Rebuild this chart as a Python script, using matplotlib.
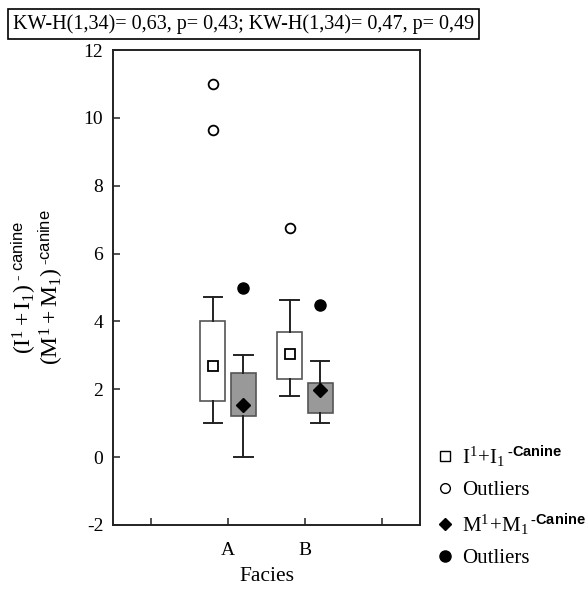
import matplotlib
matplotlib.use("Agg")
import matplotlib.pyplot as plt
from matplotlib.lines import Line2D

plt.rcParams['font.family'] = ['Liberation Serif', 'DejaVu Serif']
plt.rcParams['mathtext.fontset'] = 'custom'
plt.rcParams['mathtext.rm'] = 'Liberation Serif'
plt.rcParams['mathtext.it'] = 'Liberation Serif:italic'
plt.rcParams['mathtext.sf'] = 'Liberation Sans'
plt.rcParams['mathtext.bf'] = 'Liberation Sans:bold'

categories = ['A', 'B']
# I1+I1 -canine (white boxes)
inc_q1 = [1.65, 2.3]
inc_q3 = [4.0, 3.7]
inc_lo = [1.0, 1.8]
inc_hi = [4.73, 4.62]
inc_med = [2.7, 3.03]
inc_out = [[11.0, 9.65], [6.75]]
# M1+M1 -canine (gray boxes)
mol_q1 = [1.2, 1.3]
mol_q3 = [2.48, 2.18]
mol_lo = [0.0, 1.0]
mol_hi = [3.0, 2.83]
mol_med = [1.53, 1.97]
mol_out = [[5.0], [4.48]]

title = "KW-H(1,34)= 0,63, p= 0,43; KW-H(1,34)= 0,47, p= 0,49"

fig = plt.figure(figsize=(5.87, 5.90), dpi=100)
ax = fig.add_axes([0.1925, 0.1102, 0.523, 0.805])

cat_pos = [1.5, 2.5]
off = 0.2
bw = 0.33

def stats(q1, q3, lo, hi, med, out):
    return [dict(med=m, q1=a, q3=b, whislo=l, whishi=h, fliers=o, mean=m)
            for a, b, l, h, m, o in zip(q1, q3, lo, hi, med, out)]

common = dict(widths=bw, capwidths=0.24, showfliers=True, showmeans=True,
              patch_artist=True, manage_ticks=False)
ax.bxp(stats(inc_q1, inc_q3, inc_lo, inc_hi, inc_med, inc_out),
       positions=[p - off for p in cat_pos],
       boxprops=dict(facecolor='white', edgecolor='#555555', linewidth=1.2),
       whiskerprops=dict(color='#222222', linewidth=1.4),
       capprops=dict(color='#222222', linewidth=1.4),
       medianprops=dict(linewidth=0),
       meanprops=dict(marker='s', markerfacecolor='white', markeredgecolor='black',
                      markersize=7, markeredgewidth=1.3),
       flierprops=dict(marker='o', markerfacecolor='white', markeredgecolor='black',
                       markersize=7, markeredgewidth=1.3),
       **common)
ax.bxp(stats(mol_q1, mol_q3, mol_lo, mol_hi, mol_med, mol_out),
       positions=[p + off for p in cat_pos],
       boxprops=dict(facecolor='#999999', edgecolor='#555555', linewidth=1.2),
       whiskerprops=dict(color='#222222', linewidth=1.4),
       capprops=dict(color='#222222', linewidth=1.4),
       medianprops=dict(linewidth=0),
       meanprops=dict(marker='D', markerfacecolor='black', markeredgecolor='black',
                      markersize=7),
       flierprops=dict(marker='o', markerfacecolor='black', markeredgecolor='black',
                       markersize=8),
       **common)

ax.set_xlim(0, 4)
ax.set_ylim(-2, 12)
ax.set_yticks(range(-2, 13, 2))
ax.set_yticklabels([str(v) for v in range(-2, 13, 2)])
ax.set_xticks([0.5, 1.5, 2.5, 3.5])
ax.set_xticklabels(['', 'A', 'B', ''])
ax.tick_params(axis='both', labelsize=14, direction='in', length=5, width=1.2, color='#333333')
ax.tick_params(axis='y', pad=7)
ax.tick_params(axis='x', pad=12)
for s in ax.spines.values():
    s.set_linewidth(1.4)
    s.set_color('#222222')
ax.set_xlabel('Facies', fontsize=15.5, labelpad=6)

fig.text(0.040, 0.513, r'$(\mathrm{I}^{1} + \mathrm{I}_{1})^{\mathsf{\ \text{-}\ canine}}$',
         rotation=90, ha='center', va='center', fontsize=17)
fig.text(0.087, 0.513, r'$(\mathrm{M}^{1} + \mathrm{M}_{1})^{\mathsf{\ \text{-}canine}}$',
         rotation=90, ha='center', va='center', fontsize=17)

fig.text(0.022, 0.959, title, fontsize=14.5, ha='left', va='center',
         bbox=dict(boxstyle='square,pad=0.25', facecolor='white', edgecolor='black', linewidth=1.2))

handles = [
    Line2D([], [], linestyle='none', marker='s', markerfacecolor='white', markeredgecolor='black', markersize=7),
    Line2D([], [], linestyle='none', marker='o', markerfacecolor='white', markeredgecolor='black', markersize=7),
    Line2D([], [], linestyle='none', marker='D', markerfacecolor='black', markeredgecolor='black', markersize=6),
    Line2D([], [], linestyle='none', marker='o', markerfacecolor='black', markeredgecolor='black', markersize=8),
]
labels = [r'$\mathrm{I}^{1}\!+\!\mathrm{I}_{1}\,^{\text{-}\mathbf{Canine}}$', 'Outliers',
          r'$\mathrm{M}^{1}\!+\!\mathrm{M}_{1}\,^{\text{-}\mathbf{Canine}}$', 'Outliers']
fig.legend(handles, labels, loc='upper left', bbox_to_anchor=(0.727, 0.262),
           frameon=False, fontsize=15, handletextpad=0.3, handlelength=1.0,
           labelspacing=0.55, borderaxespad=0)

fig.savefig('out.png', dpi=100)
